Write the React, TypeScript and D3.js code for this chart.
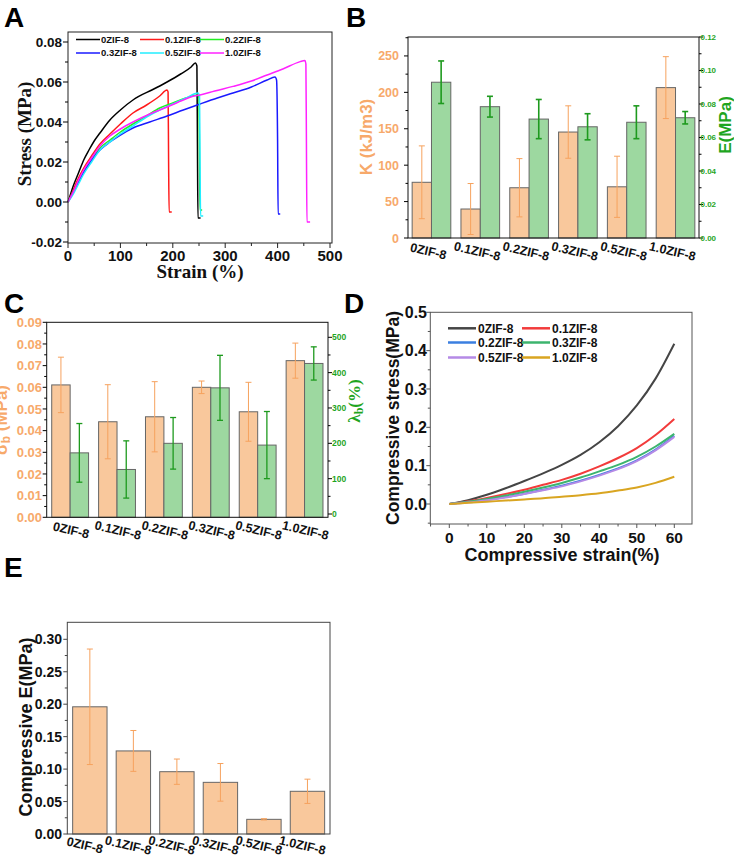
import React from "react";
import * as d3 from "d3";

const SANS = "'Liberation Sans', Arial, sans-serif";
const SERIF = "'Liberation Serif', 'Times New Roman', serif";

const ORANGE_FILL = "#f9c89c";
const ORANGE_ERR = "#f6a25e";
const ORANGE_TXT = "#f7a96b";
const GREEN_FILL = "#9dd8a0";
const GREEN_ERR = "#1e9a1e";
const GREEN_TXT = "#1fa51f";
const BAR_STROKE = "#666666";

const categories = ["0ZIF-8", "0.1ZIF-8", "0.2ZIF-8", "0.3ZIF-8", "0.5ZIF-8", "1.0ZIF-8"];

// ---------- Panel A: tensile stress-strain ----------
const tensileColors = ["#000000", "#ff1a1a", "#22ee22", "#1a1aff", "#22eeff", "#ff22ff"];
const tensile0: [number, number][] = [[0, 0], [5, 0.004], [10, 0.008], [20, 0.0145], [30, 0.021], [40, 0.026], [50, 0.0305], [61, 0.0345], [80, 0.041], [100, 0.046], [124, 0.051], [135, 0.0528], [160, 0.056], [189, 0.06], [215, 0.064], [235, 0.0675], [243, 0.0695], [246, 0.068], [247, 0.03], [248, -0.008], [253, -0.008]];
const tensile1: [number, number][] = [[0, 0], [10, 0.006], [20, 0.012], [30, 0.017], [45, 0.023], [61, 0.029], [80, 0.034], [100, 0.039], [124, 0.0445], [150, 0.0485], [175, 0.053], [189, 0.056], [191, 0.055], [192, 0.02], [193, -0.005], [198, -0.005]];
const tensile2: [number, number][] = [[0, 0], [10, 0.005], [20, 0.01], [30, 0.015], [45, 0.021], [61, 0.027], [80, 0.031], [100, 0.035], [124, 0.039], [150, 0.043], [175, 0.047], [200, 0.0495], [225, 0.052], [248, 0.0535], [250, 0.052], [251, 0.02], [252, -0.004], [256, -0.004]];
const tensile3: [number, number][] = [[0, 0], [10, 0.005], [20, 0.01], [30, 0.015], [45, 0.021], [61, 0.026], [80, 0.03], [100, 0.0335], [124, 0.037], [156, 0.04], [189, 0.043], [220, 0.046], [252, 0.049], [285, 0.052], [315, 0.0545], [350, 0.0575], [380, 0.061], [395, 0.0625], [398, 0.061], [400, 0.03], [401, -0.006], [405, -0.006]];
const tensile4: [number, number][] = [[0, 0], [10, 0.004], [20, 0.009], [30, 0.014], [45, 0.02], [61, 0.026], [80, 0.03], [100, 0.034], [124, 0.038], [150, 0.0425], [175, 0.046], [200, 0.049], [225, 0.052], [248, 0.0545], [251, 0.053], [252, 0.02], [253, -0.007], [258, -0.007]];
const tensile5: [number, number][] = [[0, 0], [10, 0.005], [20, 0.011], [30, 0.016], [45, 0.022], [61, 0.028], [80, 0.033], [100, 0.0365], [124, 0.04], [156, 0.044], [189, 0.0475], [220, 0.051], [240, 0.053], [252, 0.0535], [280, 0.0555], [315, 0.0578], [350, 0.0605], [380, 0.0635], [410, 0.0665], [443, 0.0702], [452, 0.0708], [454, 0.069], [455, 0.03], [456, -0.01], [462, -0.01]];
const tensileCurves = [tensile0, tensile1, tensile2, tensile3, tensile4, tensile5];
const strainTicksA = [0, 100, 200, 300, 400, 500];
const strainMinorA = [50, 150, 250, 350, 450];
const stressTicksA = [-0.02, 0, 0.02, 0.04, 0.06, 0.08];
const stressMinorA = [-0.01, 0.01, 0.03, 0.05, 0.07];

// ---------- Panel B: toughness & modulus ----------
const toughness = [76.5, 39.8, 69, 145.5, 70.3, 206.5];
const toughnessErr = [50, 35, 40, 36, 42, 42.5];
const modulus = [0.093, 0.0784, 0.071, 0.0664, 0.0691, 0.0718];
const modulusErr = [0.0127, 0.0062, 0.0117, 0.0078, 0.0098, 0.0037];
const kTicks = [0, 50, 100, 150, 200, 250];
const kMinor = [25, 75, 125, 175, 225, 275];
const eTicks = [0, 0.02, 0.04, 0.06, 0.08, 0.1, 0.12];
const eMinor = [0.01, 0.03, 0.05, 0.07, 0.09, 0.11];

// ---------- Panel C: strength & elongation ----------
const strength = [0.0611, 0.0441, 0.0464, 0.06, 0.0487, 0.0723];
const strengthErr = [0.0128, 0.0171, 0.0162, 0.0029, 0.0136, 0.0081];
const elongation = [173, 126, 200, 357, 195, 426];
const elongationErr = [83, 81, 73, 92, 95, 47];
const sTicks = [0, 0.01, 0.02, 0.03, 0.04, 0.05, 0.06, 0.07, 0.08, 0.09];
const sMinor = [0.005, 0.015, 0.025, 0.035, 0.045, 0.055, 0.065, 0.075, 0.085];
const lTicks = [0, 100, 200, 300, 400, 500];
const lMinor = [50, 150, 250, 350, 450];

// ---------- Panel D: compressive stress-strain ----------
const compColors = ["#454545", "#f23b3b", "#3b7fe0", "#3cb46e", "#b58ae6", "#d9a521"];
const compStrain = [0, 5, 10, 15, 20, 25, 30, 35, 40, 45, 50, 55, 60];
const comp0 = [0, 0.01, 0.024, 0.041, 0.06, 0.08, 0.102, 0.128, 0.161, 0.203, 0.257, 0.327, 0.418];
const comp1 = [0, 0.007, 0.016, 0.026, 0.037, 0.05, 0.063, 0.079, 0.098, 0.12, 0.146, 0.18, 0.222];
const comp2 = [0, 0.005, 0.011, 0.018, 0.027, 0.037, 0.048, 0.061, 0.076, 0.093, 0.114, 0.142, 0.178];
const comp3 = [0, 0.006, 0.013, 0.022, 0.032, 0.043, 0.055, 0.069, 0.085, 0.102, 0.123, 0.15, 0.183];
const comp4 = [0, 0.004, 0.01, 0.017, 0.026, 0.036, 0.046, 0.059, 0.074, 0.091, 0.112, 0.14, 0.175];
const comp5 = [0, 0.003, 0.006, 0.009, 0.012, 0.015, 0.019, 0.023, 0.028, 0.035, 0.043, 0.055, 0.071];
const compCurves = [comp0, comp1, comp2, comp3, comp4, comp5];
const dxTicks = [0, 10, 20, 30, 40, 50, 60];
const dxMinor = [-5, 5, 15, 25, 35, 45, 55];
const dyTicks = [0, 0.1, 0.2, 0.3, 0.4, 0.5];
const dyMinor = [-0.05, 0.05, 0.15, 0.25, 0.35, 0.45];

// ---------- Panel E: compressive modulus ----------
const compModulus = [0.196, 0.128, 0.096, 0.0796, 0.0226, 0.0658];
const compModulusErr = [0.089, 0.0315, 0.0195, 0.029, 0.001, 0.0187];
const ceTicks = [0, 0.05, 0.1, 0.15, 0.2, 0.25, 0.3];
const ceMinor = [0.025, 0.075, 0.125, 0.175, 0.225, 0.275];

type Lin = d3.ScaleLinear<number, number>;

function leftTicks(scale: Lin, x: number, major: number[], minor: number[], fmt: (v: number) => string, opt: { color: string; size: number; labelX: number; axis?: string; maj?: number; min?: number; key: string }) {
  const axis = opt.axis || "#000";
  const maj = opt.maj ?? 5;
  const mn = opt.min ?? 3;
  return (
    <g key={opt.key}>
      {major.map((v, i) => (
        <line key={"M" + i} x1={x - maj} x2={x} y1={scale(v)} y2={scale(v)} stroke={axis} strokeWidth={1} />
      ))}
      {minor.map((v, i) => (
        <line key={"m" + i} x1={x - mn} x2={x} y1={scale(v)} y2={scale(v)} stroke={axis} strokeWidth={1} />
      ))}
      {major.map((v, i) => (
        <text key={"t" + i} x={opt.labelX} y={scale(v)} dy="0.36em" textAnchor="end" fontFamily={SANS} fontWeight="bold" fontSize={opt.size} fill={opt.color}>
          {fmt(v)}
        </text>
      ))}
    </g>
  );
}

function rightTicks(scale: Lin, x: number, major: number[], minor: number[], fmt: (v: number) => string, opt: { color: string; size: number; labelX: number; key: string }) {
  return (
    <g key={opt.key}>
      {major.map((v, i) => (
        <line key={"M" + i} x1={x} x2={x + 4} y1={scale(v)} y2={scale(v)} stroke="#000" strokeWidth={1} />
      ))}
      {minor.map((v, i) => (
        <line key={"m" + i} x1={x} x2={x + 2.5} y1={scale(v)} y2={scale(v)} stroke="#000" strokeWidth={1} />
      ))}
      {major.map((v, i) => (
        <text key={"t" + i} x={opt.labelX} y={scale(v)} dy="0.36em" textAnchor="start" fontFamily={SANS} fontWeight="bold" fontSize={opt.size} fill={opt.color}>
          {fmt(v)}
        </text>
      ))}
    </g>
  );
}

function errBar(cx: number, yTop: number, yBot: number, color: string, w: number, cap: number, key: string) {
  return (
    <g key={key}>
      <line x1={cx} x2={cx} y1={yTop} y2={yBot} stroke={color} strokeWidth={w} />
      <line x1={cx - cap} x2={cx + cap} y1={yTop} y2={yTop} stroke={color} strokeWidth={w} />
      <line x1={cx - cap} x2={cx + cap} y1={yBot} y2={yBot} stroke={color} strokeWidth={w} />
    </g>
  );
}

function catLabels(band: d3.ScaleBand<string>, y: number, size: number, dx: number, key: string) {
  return (
    <g key={key}>
      {categories.map((c) => {
        const cx = (band(c) as number) + band.bandwidth() / 2 + dx;
        return (
          <text key={c} transform={`translate(${cx},${y}) rotate(13)`} textAnchor="middle" dy="0.36em" fontFamily={SANS} fontWeight="bold" fontSize={size} fill="#111">
            {c}
          </text>
        );
      })}
    </g>
  );
}

function PanelA() {
  const L = 68, R = 332, T = 32, B = 243;
  const x = d3.scaleLinear([0, 500], [68, 330]);
  const y = d3.scaleLinear([-0.02, 0.08], [242, 42]);
  const line = d3.line<[number, number]>().x((d) => x(d[0])).y((d) => y(d[1])).curve(d3.curveMonotoneX);
  const legendCols = [76, 140, 200];
  const legendRows = [39.5, 53];
  return (
    <g>
      <text x={4} y={27} fontFamily={SANS} fontWeight="bold" fontSize={28}>A</text>
      {tensileCurves.map((c, i) => (
        <path key={i} d={line(c) || ""} fill="none" stroke={tensileColors[i]} strokeWidth={1.5} />
      ))}
      <rect x={L} y={T} width={R - L} height={B - T} fill="none" stroke="#222" strokeWidth={1} />
      {leftTicks(y, L, stressTicksA, stressMinorA, (v) => v.toFixed(2), { color: "#111", size: 13.5, labelX: 62, key: "ya" })}
      {strainTicksA.map((v) => (
        <g key={v}>
          <line x1={x(v)} x2={x(v)} y1={B} y2={B + 5} stroke="#222" />
          <text x={x(v)} y={261} textAnchor="middle" fontFamily={SANS} fontWeight="bold" fontSize={15} fill="#111">{v}</text>
        </g>
      ))}
      {strainMinorA.map((v) => (
        <line key={v} x1={x(v)} x2={x(v)} y1={B} y2={B + 3} stroke="#222" />
      ))}
      <text transform="translate(31,134) rotate(-90)" textAnchor="middle" fontFamily={SERIF} fontWeight="bold" fontSize={19} fill="#111">Stress (MPa)</text>
      <text x={200} y={278} textAnchor="middle" fontFamily={SERIF} fontWeight="bold" fontSize={19} fill="#111">Strain (%)</text>
      {tensileColors.map((col, i) => {
        const r = Math.floor(i / 3), c = i % 3;
        const lx = legendCols[c];
        const ly = legendRows[r];
        return (
          <g key={"lg" + i}>
            <line x1={lx} x2={lx + 24} y1={ly} y2={ly} stroke={col} strokeWidth={1.5} />
            <text x={lx + 25} y={ly} dy="0.36em" fontFamily={SANS} fontWeight="bold" fontSize={9.5} fill="#111">{categories[i]}</text>
          </g>
        );
      })}
    </g>
  );
}

function PanelB() {
  const L = 408, R = 699, T = 37, B = 238;
  const band = d3.scaleBand<string>().domain(categories).range([L, R]).paddingInner(0.208).paddingOuter(0.085);
  const sub = d3.scaleBand<string>().domain(["k", "e"]).range([0, band.bandwidth()]);
  const yK = d3.scaleLinear([0, 276], [B, T]);
  const yE = d3.scaleLinear([0, 0.12], [B, T]);
  return (
    <g>
      <text x={346} y={27} fontFamily={SANS} fontWeight="bold" fontSize={28}>B</text>
      {categories.map((c, i) => {
        const x0 = band(c) as number;
        const xk = x0 + (sub("k") as number);
        const xe = x0 + (sub("e") as number);
        const w = sub.bandwidth();
        return (
          <g key={c}>
            <rect x={xk} y={yK(toughness[i])} width={w} height={B - yK(toughness[i])} fill={ORANGE_FILL} stroke={BAR_STROKE} strokeWidth={1} />
            <rect x={xe} y={yE(modulus[i])} width={w} height={B - yE(modulus[i])} fill={GREEN_FILL} stroke={BAR_STROKE} strokeWidth={1} />
            {errBar(xk + w / 2, yK(toughness[i] + toughnessErr[i]), yK(Math.max(0, toughness[i] - toughnessErr[i])), ORANGE_ERR, 1, 3, "ek")}
            {errBar(xe + w / 2, yE(modulus[i] + modulusErr[i]), yE(modulus[i] - modulusErr[i]), GREEN_ERR, 1.6, 3, "ee")}
          </g>
        );
      })}
      <rect x={L} y={T} width={R - L} height={B - T} fill="none" stroke="#111" strokeWidth={1} />
      {leftTicks(yK, L, kTicks, kMinor, (v) => String(v), { color: ORANGE_TXT, size: 12.5, labelX: 399, key: "yk", maj: 4, min: 2.5 })}
      {rightTicks(yE, R, eTicks, eMinor, (v) => v.toFixed(2), { color: GREEN_TXT, size: 8, labelX: 700.5, key: "ye" })}
      {catLabels(band, 251, 12.5, -3, "cb")}
      <text transform="translate(372,137) rotate(-90)" textAnchor="middle" fontFamily={SANS} fontWeight="bold" fontSize={17} fill={ORANGE_TXT}>K (kJ/m3)</text>
      <text transform="translate(731,125) rotate(-90)" textAnchor="middle" fontFamily={SANS} fontWeight="bold" fontSize={17} fill={GREEN_TXT}>E(MPa)</text>
    </g>
  );
}

function PanelC() {
  const L = 46.7, R = 328, T = 322.3, B = 517.3;
  const band = d3.scaleBand<string>().domain(categories).range([L, R]).paddingInner(0.214).paddingOuter(0.107);
  const sub = d3.scaleBand<string>().domain(["s", "l"]).range([0, band.bandwidth()]);
  const yS = d3.scaleLinear([0, 0.09], [B, T]);
  const yL = d3.scaleLinear([0, 500], [514, 337.3]);
  return (
    <g>
      <text x={4} y={313} fontFamily={SANS} fontWeight="bold" fontSize={28}>C</text>
      {categories.map((c, i) => {
        const x0 = band(c) as number;
        const xs = x0 + (sub("s") as number);
        const xl = x0 + (sub("l") as number);
        const w = sub.bandwidth();
        return (
          <g key={c}>
            <rect x={xs} y={yS(strength[i])} width={w} height={B - yS(strength[i])} fill={ORANGE_FILL} stroke={BAR_STROKE} strokeWidth={1} />
            <rect x={xl} y={yL(elongation[i])} width={w} height={B - yL(elongation[i])} fill={GREEN_FILL} stroke={BAR_STROKE} strokeWidth={1} />
            {errBar(xs + w / 2, yS(strength[i] + strengthErr[i]), yS(strength[i] - strengthErr[i]), ORANGE_ERR, 1, 3, "es")}
            {errBar(xl + w / 2, yL(elongation[i] + elongationErr[i]), yL(elongation[i] - elongationErr[i]), GREEN_ERR, 1.3, 3, "el")}
          </g>
        );
      })}
      <rect x={L} y={T} width={R - L} height={B - T} fill="none" stroke="#111" strokeWidth={1} />
      {leftTicks(yS, L, sTicks, sMinor, (v) => v.toFixed(2), { color: ORANGE_TXT, size: 13, labelX: 42, key: "ys", maj: 4, min: 2.5 })}
      {rightTicks(yL, R, lTicks, lMinor, (v) => String(v), { color: GREEN_TXT, size: 8.5, labelX: 332, key: "yl" })}
      {catLabels(band, 530, 12.5, 1, "cc")}
      <text transform="translate(7,420) rotate(-90)" textAnchor="middle" fontFamily={SANS} fontWeight="bold" fontSize={17} fill={ORANGE_TXT}>
        σ<tspan fontSize={12} dy={3}>b</tspan><tspan dy={-3}> (MPa)</tspan>
      </text>
      <text transform="translate(360,401) rotate(-90)" textAnchor="middle" fontFamily={SERIF} fontWeight="bold" fontSize={17} fill={GREEN_TXT}>
        λ<tspan fontSize={12} dy={3}>b</tspan><tspan dy={-3}>(%)</tspan>
      </text>
      <text x={344} y={313} fontFamily={SANS} fontWeight="bold" fontSize={28}>D</text>
    </g>
  );
}

function PanelD() {
  const L = 430.3, R = 692, T = 312.3, B = 524;
  const x = d3.scaleLinear([0, 60], [449.3, 674.3]);
  const y = d3.scaleLinear([0, 0.5], [504, 312.3]);
  const line = d3.line<number>().x((_, i) => x(compStrain[i])).y((d) => y(d)).curve(d3.curveMonotoneX);
  const colX = [448, 522];
  const rowY = [328.3, 342.5, 357.5];
  const order = [0, 1, 2, 3, 4, 5];
  return (
    <g>
      {compCurves.map((c, i) => (
        <path key={i} d={line(c) || ""} fill="none" stroke={compColors[i]} strokeWidth={2} />
      ))}
      <rect x={L} y={T} width={R - L} height={B - T} fill="none" stroke="#555" strokeWidth={1} />
      {leftTicks(y, L, dyTicks, dyMinor, (v) => v.toFixed(1), { color: "#111", size: 16, labelX: 427, key: "yd", axis: "#555", maj: 4, min: 2.5 })}
      {dxTicks.map((v) => (
        <g key={v}>
          <line x1={x(v)} x2={x(v)} y1={B} y2={B + 4} stroke="#555" />
          <text x={x(v)} y={543} textAnchor="middle" fontFamily={SANS} fontWeight="bold" fontSize={15.5} fill="#111">{v}</text>
        </g>
      ))}
      {dxMinor.map((v) => (
        <line key={v} x1={x(v)} x2={x(v)} y1={B} y2={B + 2.5} stroke="#555" />
      ))}
      <text transform="translate(399,418) rotate(-90)" textAnchor="middle" fontFamily={SANS} fontWeight="bold" fontSize={17.5} fill="#111">Compressive stress(MPa)</text>
      <text x={562} y={561} textAnchor="middle" fontFamily={SANS} fontWeight="bold" fontSize={18} fill="#111">Compressive strain(%)</text>
      {order.map((i) => {
        const r = Math.floor(i / 2), c = i % 2;
        return (
          <g key={"lg" + i}>
            <line x1={colX[c]} x2={colX[c] + 28} y1={rowY[r]} y2={rowY[r]} stroke={compColors[i]} strokeWidth={2.5} />
            <text x={colX[c] + 30} y={rowY[r]} dy="0.36em" fontFamily={SANS} fontWeight="bold" fontSize={12} fill="#111">{categories[i]}</text>
          </g>
        );
      })}
    </g>
  );
}

function PanelE() {
  const L = 67.3, R = 330, T = 622.3, B = 834;
  const band = d3.scaleBand<string>().domain(categories).range([L, R]).paddingInner(0.21).paddingOuter(0.123);
  const y = d3.scaleLinear([0, 0.3], [B, 639.3]);
  return (
    <g>
      <text x={4} y={577} fontFamily={SANS} fontWeight="bold" fontSize={28}>E</text>
      {categories.map((c, i) => {
        const x0 = band(c) as number;
        const w = band.bandwidth();
        return (
          <g key={c}>
            <rect x={x0} y={y(compModulus[i])} width={w} height={B - y(compModulus[i])} fill={ORANGE_FILL} stroke={BAR_STROKE} strokeWidth={1} />
            {errBar(x0 + w / 2, y(compModulus[i] + compModulusErr[i]), y(compModulus[i] - compModulusErr[i]), ORANGE_ERR, 1, 3, "e")}
          </g>
        );
      })}
      <rect x={L} y={T} width={R - L} height={B - T} fill="none" stroke="#444" strokeWidth={1} />
      {leftTicks(y, L, ceTicks, ceMinor, (v) => v.toFixed(2), { color: "#111", size: 14, labelX: 62, key: "ye", axis: "#444", maj: 4, min: 2.5 })}
      {catLabels(band, 845, 12.5, -5, "ce")}
      <text transform="translate(32,727) rotate(-90)" textAnchor="middle" fontFamily={SANS} fontWeight="bold" fontSize={18} fill="#111">Compressive E(MPa)</text>
    </g>
  );
}

export default function App() {
  return (
    <svg width={734} height={857} viewBox="0 0 734 857" style={{ position: "absolute", left: 0, top: 0, background: "#fff" }}>
      <rect x={0} y={0} width={734} height={857} fill="#fff" />
      <PanelA />
      <PanelB />
      <PanelC />
      <PanelD />
      <PanelE />
    </svg>
  );
}
